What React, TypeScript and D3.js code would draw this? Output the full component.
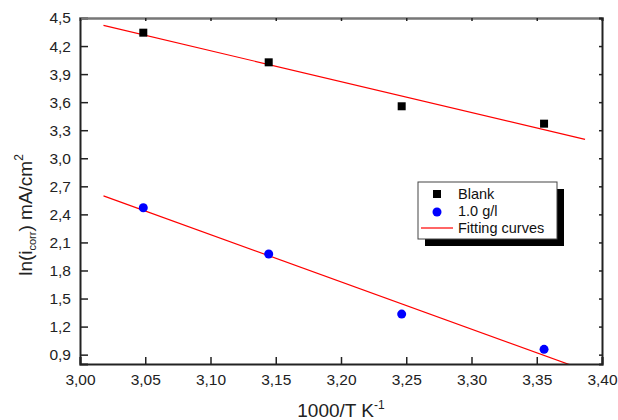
import React, { useEffect, useRef } from 'react';
import * as d3 from 'd3';

// 1000/T values (K^-1)
const invTemp = [3.0485, 3.1446, 3.2465, 3.3556];
// ln(i_corr) for each series
const blankValues = [4.343, 4.026, 3.556, 3.37];
const inhibitorValues = [2.471, 1.976, 1.334, 0.957];
// range over which the fitted lines are drawn
const fitRange = [3.018, 3.387];

const xTicks = [3.0, 3.05, 3.1, 3.15, 3.2, 3.25, 3.3, 3.35, 3.4];
const yTicks = [0.9, 1.2, 1.5, 1.8, 2.1, 2.4, 2.7, 3.0, 3.3, 3.6, 3.9, 4.2, 4.5];

const legendLabels = ['Blank', '1.0 g/l', 'Fitting curves'];

const fontFamily = 'Arial, "Liberation Sans", sans-serif';

// simple least squares fit
const linFit = (xs: number[], ys: number[]) => {
  const mx = d3.mean(xs) as number;
  const my = d3.mean(ys) as number;
  let sxy = 0;
  let sxx = 0;
  xs.forEach((x, i) => {
    sxy += (x - mx) * (ys[i] - my);
    sxx += (x - mx) * (x - mx);
  });
  const slope = sxy / sxx;
  return (x: number) => my + slope * (x - mx);
};

const App = () => {
  const chartRef = useRef<SVGSVGElement>(null);

  useEffect(() => {
    const width = 618;
    const height = 420;
    const marginTop = 18;
    const marginRight = 16;
    const marginBottom = 56;
    const marginLeft = 80;

    const svg = d3.select(chartRef.current);
    svg.selectAll('*').remove();
    svg.attr('width', width).attr('height', height);

    const x = d3.scaleLinear()
      .domain([3.0, 3.4])
      .range([marginLeft, width - marginRight]);

    const y = d3.scaleLinear()
      .domain([0.8, 4.5])
      .range([height - marginBottom, marginTop]);

    const fmtX = (d: number) => d3.format('.2f')(d).replace('.', ',');
    const fmtY = (d: number) => d3.format('.1f')(d).replace('.', ',');

    // clip for the fitting lines
    svg.append('clipPath')
      .attr('id', 'plot-clip')
      .append('rect')
      .attr('x', marginLeft)
      .attr('y', marginTop)
      .attr('width', width - marginRight - marginLeft)
      .attr('height', height - marginBottom - marginTop);

    // fitted lines
    const line = d3.line<number>()
      .x(d => x(d));
    [blankValues, inhibitorValues].forEach(vals => {
      const f = linFit(invTemp, vals);
      svg.append('path')
        .datum(fitRange)
        .attr('clip-path', 'url(#plot-clip)')
        .attr('fill', 'none')
        .attr('stroke', '#ff0000')
        .attr('stroke-width', 1.2)
        .attr('d', line.y(d => y(f(d))));
    });

    // blank points (squares)
    svg.selectAll('rect.blank')
      .data(invTemp)
      .join('rect')
        .attr('class', 'blank')
        .attr('x', d => x(d) - 4)
        .attr('y', (d, i) => y(blankValues[i]) - 4)
        .attr('width', 8)
        .attr('height', 8)
        .attr('fill', '#000');

    // inhibitor points (circles)
    svg.selectAll('circle.inh')
      .data(invTemp)
      .join('circle')
        .attr('class', 'inh')
        .attr('cx', d => x(d))
        .attr('cy', (d, i) => y(inhibitorValues[i]))
        .attr('r', 4.5)
        .attr('fill', '#0000ff');

    // axes
    const axisBottom = svg.append('g')
      .attr('transform', `translate(0,${height - marginBottom})`)
      .call(d3.axisBottom(x).tickValues(xTicks).tickSize(-7).tickPadding(10).tickFormat(d => fmtX(+d)));
    const axisLeft = svg.append('g')
      .attr('transform', `translate(${marginLeft},0)`)
      .call(d3.axisLeft(y).tickValues(yTicks).tickSize(-8).tickPadding(9).tickFormat(d => fmtY(+d)));
    const axisTop = svg.append('g')
      .attr('transform', `translate(0,${marginTop})`)
      .call(d3.axisTop(x).tickValues(xTicks).tickSize(-3).tickFormat(() => ''));
    const axisRight = svg.append('g')
      .attr('transform', `translate(${width - marginRight},0)`)
      .call(d3.axisRight(y).tickValues(yTicks).tickSize(-3).tickFormat(() => ''));

    [axisBottom, axisLeft, axisTop, axisRight].forEach(g => {
      g.select('.domain').attr('stroke', '#222').attr('stroke-width', 2);
      g.selectAll('.tick line').attr('stroke', '#222').attr('stroke-width', 1.5);
      g.selectAll('.tick text')
        .attr('fill', '#222')
        .style('font-size', '15.5px')
        .style('font-family', fontFamily);
    });
    axisTop.select('.domain').attr('stroke', '#777').attr('stroke-width', 2.5);

    // axis titles
    const xTitle = svg.append('text')
      .attr('x', (marginLeft + width - marginRight) / 2)
      .attr('y', 417)
      .attr('text-anchor', 'middle')
      .style('font-family', fontFamily)
      .style('font-size', '19px')
      .attr('fill', '#222');
    xTitle.append('tspan').text('1000/T K');
    xTitle.append('tspan').attr('dy', -8).style('font-size', '12px').text('-1');

    const yTitle = svg.append('text')
      .attr('transform', 'translate(32,215) rotate(-90)')
      .attr('text-anchor', 'middle')
      .style('font-family', fontFamily)
      .style('font-size', '19px')
      .attr('fill', '#222');
    yTitle.append('tspan').text('ln(i');
    yTitle.append('tspan').attr('dy', 4).style('font-size', '11px').text('corr');
    yTitle.append('tspan').attr('dy', -4).text(') mA/cm');
    yTitle.append('tspan').attr('dy', -9).style('font-size', '12px').text('2');

    // legend
    const lx = 418;
    const ly = 182;
    const lw = 139;
    const lh = 57;
    const legend = svg.append('g');
    legend.append('rect')
      .attr('x', lx + 7).attr('y', ly + 7)
      .attr('width', lw).attr('height', lh)
      .attr('fill', '#000');
    legend.append('rect')
      .attr('x', lx).attr('y', ly)
      .attr('width', lw).attr('height', lh)
      .attr('fill', '#fff')
      .attr('stroke', '#444')
      .attr('stroke-width', 1);
    legend.append('rect')
      .attr('x', 433).attr('y', 190).attr('width', 8).attr('height', 8).attr('fill', '#000');
    legend.append('circle')
      .attr('cx', 437).attr('cy', 212).attr('r', 4.5).attr('fill', '#0000ff');
    legend.append('line')
      .attr('x1', 421).attr('x2', 453).attr('y1', 228).attr('y2', 228)
      .attr('stroke', '#ff0000').attr('stroke-width', 1.2);
    legend.selectAll('text')
      .data(legendLabels)
      .join('text')
        .attr('x', 458)
        .attr('y', (d, i) => 194 + i * 17)
        .attr('dy', '0.35em')
        .style('font-family', fontFamily)
        .style('font-size', '14.5px')
        .attr('fill', '#111')
        .text(d => d);

    return () => {
      svg.selectAll('*').remove();
    };
  }, []);

  return (
    <div style={{ position: 'absolute', left: 0, top: 0 }}>
      <svg ref={chartRef}></svg>
    </div>
  );
};

export default App;
